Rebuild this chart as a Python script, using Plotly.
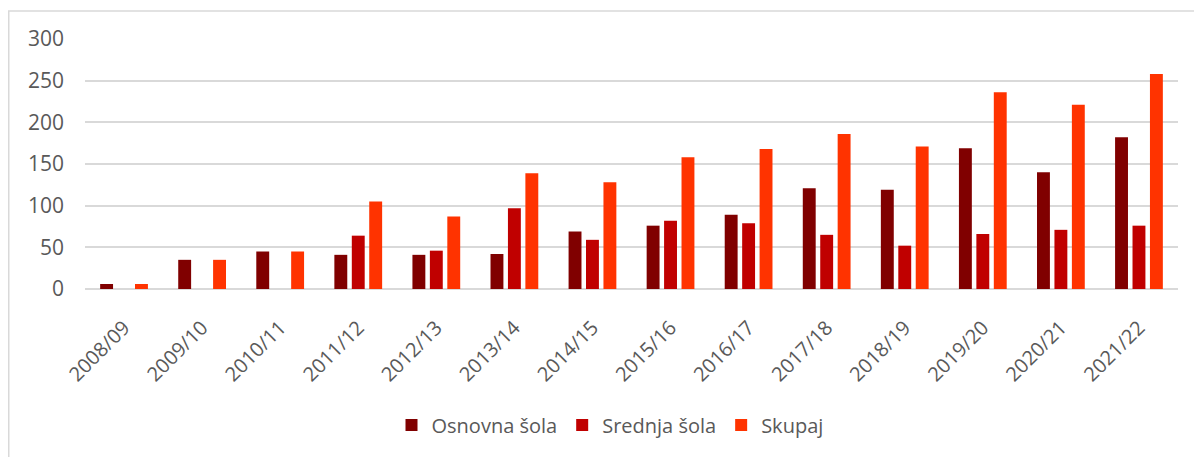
import plotly.graph_objects as go

years = ["2008/09", "2009/10", "2010/11", "2011/12", "2012/13", "2013/14", "2014/15",
         "2015/16", "2016/17", "2017/18", "2018/19", "2019/20", "2020/21", "2021/22"]
osnovna = [6, 35, 45, 41, 41, 42, 69, 76, 89, 121, 119, 169, 140, 182]
srednja = [0, 0, 0, 64, 46, 97, 59, 82, 79, 65, 52, 66, 71, 76]
skupaj = [6, 35, 45, 105, 87, 139, 128, 158, 168, 186, 171, 236, 221, 258]

names = ["Osnovna šola", "Srednja šola", "Skupaj"]
colors = ["#800000", "#C00000", "#FF3300"]
series = [osnovna, srednja, skupaj]

FONT = "Open Sans"
TXT = "#595959"

# the page body has an 8px margin, so the figure is sized/offset accordingly
W, H = 1194, 449
L, R, T, B = 77, 24, 31, 168
PW = W - L - R
PH = H - T - B

fig = go.Figure()
for name, vals, col in zip(names, series, colors):
    fig.add_trace(go.Bar(
        x=years, y=vals, name=name,
        marker=dict(color=col, line=dict(width=0)),
    ))

fig.update_layout(
    width=W, height=H,
    paper_bgcolor="white", plot_bgcolor="white",
    barmode="group", bargap=0.33, bargroupgap=0.26,
    margin=dict(l=L, r=R, t=T, b=B, pad=0, autoexpand=False),
    font=dict(family=FONT, size=20, color=TXT),
    showlegend=True,
    legend=dict(orientation="h", x=(602 - L) / PW, xanchor="center",
                y=(PH - (417 - T)) / PH, yanchor="middle",
                font=dict(family=FONT, size=20, color=TXT),
                itemwidth=30, traceorder="normal", bgcolor="rgba(0,0,0,0)"),
    xaxis=dict(tickangle=-45, showgrid=False, showline=False, zeroline=False,
               tickfont=dict(family=FONT, size=20, color=TXT), ticks="",
               ticklabelstandoff=22),
    yaxis=dict(range=[0, 300], dtick=50, showgrid=True, gridcolor="#D9D9D9", gridwidth=1.5,
               zeroline=True, zerolinecolor="#D9D9D9", zerolinewidth=1.5,
               showline=False, ticks="", ticklabelstandoff=20,
               tickfont=dict(family=FONT, size=21, color=TXT)),
    shapes=[dict(type="rect", xref="paper", yref="paper",
                 x0=(0.75 - L) / PW, x1=1.2, y0=-1.0, y1=(PH - (3 - T)) / PH,
                 line=dict(color="#D9D9D9", width=1.5), fillcolor="rgba(0,0,0,0)", layer="below")],
)

fig.write_html("out.html")
